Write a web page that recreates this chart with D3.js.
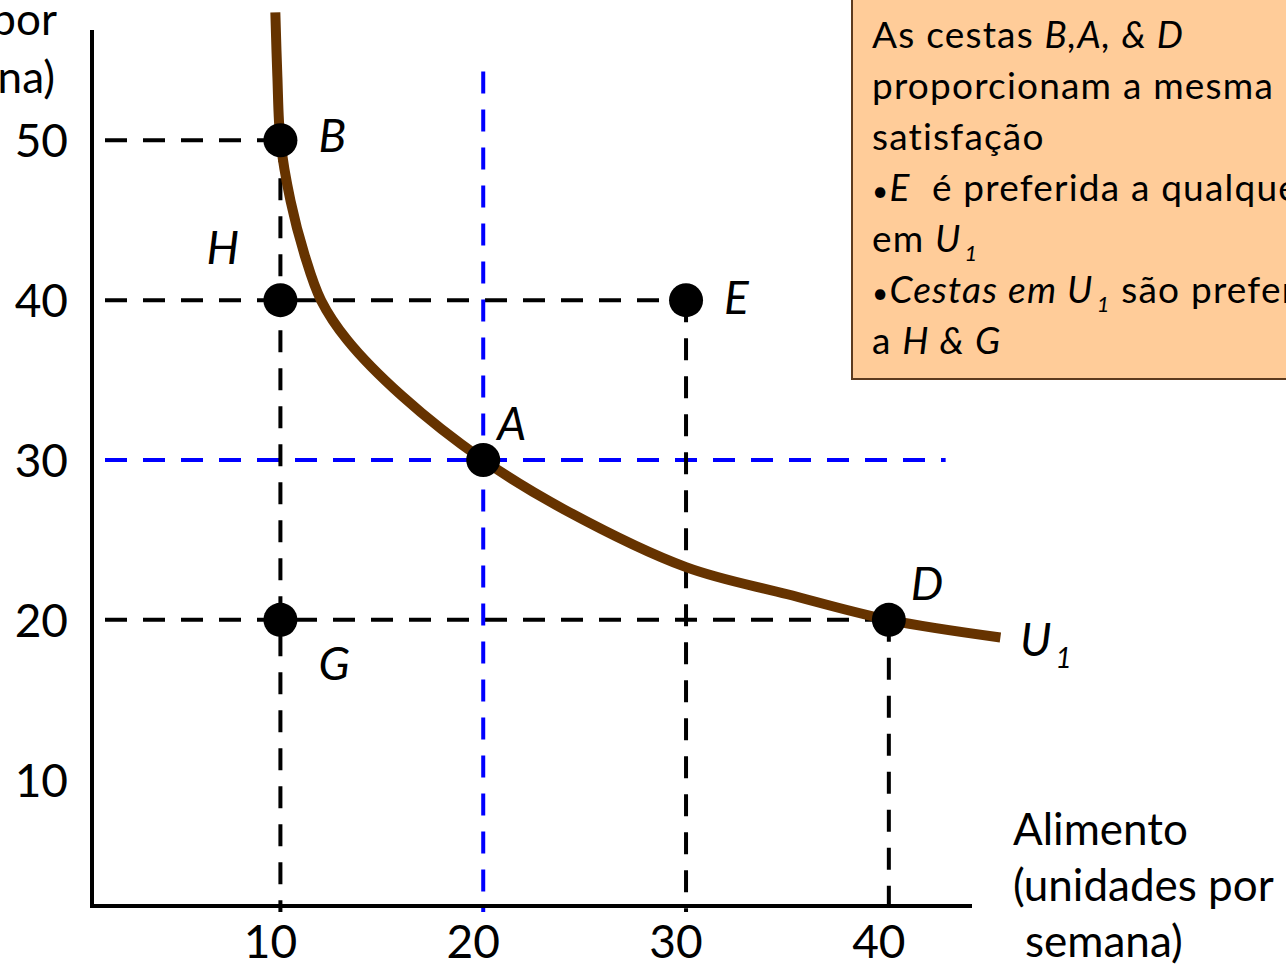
<!DOCTYPE html>
<html>
<head>
<meta charset="utf-8">
<script src="https://cdn.jsdelivr.net/npm/d3@7"></script>
<style>
  html, body { margin: 0; padding: 0; background: #fff; overflow: hidden; }
  svg { display: block; font-family: Lato, "Open Sans", sans-serif; }
</style>
</head>
<body>
<svg id="chart" width="1286" height="967"></svg>
<script>
// Bundles of goods (food per week, clothing per week)
const bundleNames = ["B", "H", "E", "A", "G", "D"];
const bundleFood = [10, 10, 30, 20, 10, 40];
const bundleClothing = [50, 40, 40, 30, 20, 20];

// Indifference curve U1 through B, A and D
const curveFood = [9.75, 9.85, 10, 10.5, 11.2, 12, 13.3, 16, 20, 24, 30, 35, 40, 45.5];
const curveClothing = [58, 54, 50, 46.2, 42.8, 40, 37.5, 34, 30, 26.9, 23.3, 21.6, 20, 18.9];

// Axis tick labels
const xTicks = [10, 20, 30, 40];
const yTicks = [10, 20, 30, 40, 50];

const svg = d3.select("#chart");

const x = d3.scaleLinear().domain([0.71, 44.1]).range([92, 972]);
const y = d3.scaleLinear().domain([2.1, 56.9]).range([906, 30]);

const BROWN = "#663300";
const BLUE = "#0000ff";
const dash = "22,16";

// Reference lines (dashed) from the axes to the bundles
const guides = svg.append("g").attr("fill", "none").attr("stroke-width", 4).attr("stroke-dasharray", dash);
const axisLeftPx = x(0.71) + 13;
const axisBottomPx = y(2.1) + 6;

function hGuide(vy, toX, color) {
  guides.append("line")
    .attr("x1", axisLeftPx).attr("x2", x(toX))
    .attr("y1", y(vy)).attr("y2", y(vy))
    .attr("stroke", color);
}
function vGuide(vx, fromY, color) {
  guides.append("line")
    .attr("x1", x(vx)).attr("x2", x(vx))
    .attr("y1", y(fromY)).attr("y2", axisBottomPx)
    .attr("stroke", color);
}
hGuide(50, 10, "#000");
hGuide(40, 30, "#000");
hGuide(20, 40, "#000");
hGuide(30, 42.8, BLUE);
vGuide(10, 50, "#000");
vGuide(30, 40, "#000");
vGuide(40, 20, "#000");
vGuide(20, 54.3, BLUE);

// Axes
const axes = svg.append("g").attr("stroke", "#000").attr("stroke-width", 4).attr("fill", "none");
axes.append("line").attr("x1", x(0.71)).attr("x2", x(0.71)).attr("y1", y(56.9)).attr("y2", y(2.1) + 2);
axes.append("line").attr("x1", x(0.71) - 2).attr("x2", x(44.1)).attr("y1", y(2.1)).attr("y2", y(2.1));

// Tick labels
svg.append("g").selectAll("text").data(xTicks).join("text")
  .attr("x", d => x(d) - 10).attr("y", 958)
  .attr("text-anchor", "middle")
  .attr("font-size", 46)
  .text(d => d);
svg.append("g").selectAll("text").data(yTicks).join("text")
  .attr("x", 68).attr("y", d => y(d) + 17)
  .attr("text-anchor", "end")
  .attr("font-size", 46)
  .text(d => d);

// Indifference curve U1
const curvePts = curveFood.map((f, i) => [f, curveClothing[i]]);
svg.append("path")
  .datum(curvePts)
  .attr("fill", "none")
  .attr("stroke", BROWN)
  .attr("stroke-width", 10)
  .attr("d", d3.line().x(d => x(d[0])).y(d => y(d[1])).curve(d3.curveCatmullRom.alpha(0.5)));

// Bundle markers
svg.append("g").selectAll("circle").data(bundleNames).join("circle")
  .attr("cx", (d, i) => x(bundleFood[i]))
  .attr("cy", (d, i) => y(bundleClothing[i]))
  .attr("r", 17)
  .attr("fill", "#000");

// Bundle labels
const labelOffset = { B: [38, 12], H: [-74, -36], E: [38, 14], A: [14, -20], G: [38, 60], D: [22, -20] };
svg.append("g").selectAll("text").data(bundleNames).join("text")
  .attr("x", (d, i) => x(bundleFood[i]) + labelOffset[d][0])
  .attr("y", (d, i) => y(bundleClothing[i]) + labelOffset[d][1])
  .attr("font-size", 46)
  .attr("font-style", "italic")
  .text(d => d);

// Curve label U1
const u1 = svg.append("text").attr("x", 1020).attr("y", 656).attr("font-size", 46).attr("font-style", "italic");
u1.append("tspan").text("U");
u1.append("tspan").attr("font-size", 28).attr("dy", 12).attr("dx", 4).text("1");

// Axis titles
const xTitle = svg.append("g").attr("font-size", 44);
xTitle.append("text").attr("x", 1013).attr("y", 845).text("Alimento");
xTitle.append("text").attr("x", 1013).attr("y", 901).text("(unidades por");
xTitle.append("text").attr("x", 1025).attr("y", 957).text("semana)");

const yTitle = svg.append("g").attr("font-size", 44).attr("text-anchor", "end");
yTitle.append("text").attr("x", 57).attr("y", 35).text("(unidades por");
yTitle.append("text").attr("x", 55).attr("y", 93).text("semana)");

// Note box
svg.append("rect")
  .attr("x", 852).attr("y", -10).attr("width", 600).attr("height", 389)
  .attr("fill", "#ffcc99").attr("stroke", "#5c3a1e").attr("stroke-width", 2);

const noteLines = [
  [["As cestas ", false], ["B,A, & D", true]],
  [["proporcionam a mesma", false]],
  [["satisfação", false]],
  [["•", false], ["E", true], ["  é preferida a qualquer cesta", false]],
  [["em ", false], ["U", true], ["1", true, "sub"]],
  [["•", false], ["Cestas em U", true], ["1", true, "sub"], [" são preferidas", false]],
  [["a ", false], ["H & G", true]]
];
const note = svg.append("g").attr("font-size", 37).attr("letter-spacing", 1.2);
noteLines.forEach((parts, li) => {
  const t = note.append("text").attr("x", 872).attr("y", 48 + li * 51).attr("xml:space", "preserve");
  let afterSub = false;
  parts.forEach(p => {
    const s = t.append("tspan").text(p[0]).attr("font-style", p[1] ? "italic" : "normal");
    if (p[2] === "sub") {
      s.attr("font-size", 22).attr("dy", 9).attr("dx", 3);
      afterSub = true;
    } else if (afterSub) {
      s.attr("dy", -9);
      afterSub = false;
    }
    if (p[0] === "•") s.attr("font-size", 28);
  });
});
</script>
</body>
</html>
